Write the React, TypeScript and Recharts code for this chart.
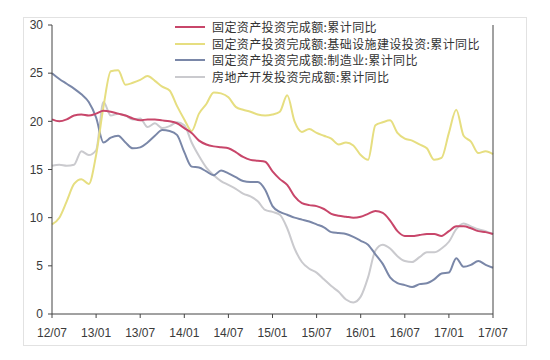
import React from 'react';
import { LineChart, Line, XAxis, YAxis } from 'recharts';

// monthly, 2012-07 .. 2017-07
const months = [
  '12/07', '12/08', '12/09', '12/10', '12/11', '12/12',
  '13/01', '13/02', '13/03', '13/04', '13/05', '13/06', '13/07', '13/08', '13/09', '13/10', '13/11', '13/12',
  '14/01', '14/02', '14/03', '14/04', '14/05', '14/06', '14/07', '14/08', '14/09', '14/10', '14/11', '14/12',
  '15/01', '15/02', '15/03', '15/04', '15/05', '15/06', '15/07', '15/08', '15/09', '15/10', '15/11', '15/12',
  '16/01', '16/02', '16/03', '16/04', '16/05', '16/06', '16/07', '16/08', '16/09', '16/10', '16/11', '16/12',
  '17/01', '17/02', '17/03', '17/04', '17/05', '17/06', '17/07',
];

const totalFai = [
  20.2, 20.0, 20.2, 20.6, 20.7, 20.6,
  20.8, 21.1, 21.0, 20.8, 20.6, 20.3, 20.1, 20.2, 20.2, 20.1, 20.0, 19.8,
  19.3, 18.8, 18.0, 17.6, 17.4, 17.3, 17.2, 16.8, 16.3, 16.0, 15.9, 15.8,
  14.8, 14.0, 13.4, 12.2, 11.5, 11.3, 11.2, 10.9, 10.4, 10.2, 10.1, 10.0,
  10.1, 10.4, 10.7, 10.5, 9.7, 8.6, 8.1, 8.1, 8.2, 8.3, 8.3, 8.1,
  8.6, 9.1, 9.1, 8.9, 8.6, 8.5, 8.3,
];

const infraFai = [
  9.3, 10.0, 11.7, 13.5, 14.0, 13.5,
  16.5, 21.5, 25.2, 25.3, 23.8, 24.0, 24.3, 24.7, 24.2, 23.6, 23.2, 21.6,
  20.2, 19.0, 20.8, 21.8, 23.0, 22.9, 22.5, 21.5, 21.2, 21.0, 20.7, 20.6,
  20.7, 21.0, 22.7, 20.0, 18.9, 19.2, 18.8, 18.5, 18.2, 17.6, 17.8, 17.5,
  16.5, 16.0, 19.6, 19.9, 20.1, 18.8, 18.2, 18.0, 17.6, 17.2, 16.0, 16.2,
  18.8, 21.2, 18.5, 17.9, 16.7, 16.9, 16.6,
];

const mfgFai = [
  25.0, 24.4, 23.9, 23.4, 22.8, 22.0,
  20.4, 17.8, 18.3, 18.5, 17.8, 17.2, 17.3, 17.8, 18.5, 19.1, 19.0, 18.6,
  16.8, 15.3, 15.2, 14.8, 14.4, 14.9, 14.6, 14.2, 13.8, 13.7, 13.7, 12.9,
  11.2, 10.6, 10.3, 10.0, 9.8, 9.6, 9.3, 9.0, 8.5, 8.4, 8.3, 8.0,
  7.6, 7.2, 6.2, 5.2, 3.8, 3.2, 3.0, 2.8, 3.1, 3.2, 3.6, 4.2,
  4.3, 5.8, 4.9, 5.1, 5.5, 5.1, 4.8,
];

const realEstate = [
  15.4, 15.5, 15.4, 15.5, 16.9, 16.5,
  17.0, 22.0, 20.6, 20.8, 20.6, 20.2, 20.3, 19.4, 19.8, 19.3, 19.5, 19.9,
  19.6, 17.8, 16.4, 15.2, 14.4, 13.8, 13.4, 13.0, 12.5, 12.2, 11.7, 10.8,
  10.6, 10.3, 8.9, 6.8, 5.4, 4.7, 4.3, 3.6, 2.9, 2.3, 1.5, 1.2,
  1.8, 3.8, 6.6, 7.2, 6.8, 6.0, 5.5, 5.4, 5.9, 6.4, 6.4, 6.8,
  7.5, 8.8, 9.4, 9.1, 8.8, 8.6, 8.3,
];

const xTicks = [0, 6, 12, 18, 24, 30, 36, 42, 48, 54, 60];
const yTicks = [0, 5, 10, 15, 20, 25, 30];

const SERIES = [
  { key: 'total', name: '固定资产投资完成额:累计同比', color: '#C8466A' },
  { key: 'infra', name: '固定资产投资完成额:基础设施建设投资:累计同比', color: '#E6DE80' },
  { key: 'mfg', name: '固定资产投资完成额:制造业:累计同比', color: '#7A87A8' },
  { key: 're', name: '房地产开发投资完成额:累计同比', color: '#CACACE' },
];

const data = months.map((m, i) => ({
  i,
  month: m,
  total: totalFai[i],
  infra: infraFai[i],
  mfg: mfgFai[i],
  re: realEstate[i],
}));

const tickStyle = { fontSize: 12, fill: '#3a3a3a', fontFamily: '"Liberation Sans", Arial, sans-serif' };

const LegendBox = () => (
  <div
    style={{
      position: 'absolute',
      left: 175,
      top: 19,
      fontFamily: '"Noto Sans CJK SC", sans-serif',
      fontSize: 12,
      color: '#333',
    }}
  >
    {SERIES.map((s) => (
      <div key={s.key} style={{ display: 'flex', alignItems: 'center', height: 16.5 }}>
        <span style={{ display: 'inline-block', width: 30, height: 2, background: s.color, marginRight: 7 }} />
        <span style={{ whiteSpace: 'nowrap', lineHeight: '16px', letterSpacing: 0.4 }}>{s.name}</span>
      </div>
    ))}
  </div>
);

const App: React.FC = () => {
  return (
    <div style={{ position: 'absolute', left: 0, top: 0, width: 550, height: 360, background: '#fff' }}>
      <div style={{ position: 'absolute', left: 23, top: 17, width: 502, height: 327, border: '1px solid #e2e2e2' }} />
      <LineChart width={550} height={360} data={data} margin={{ top: 25, right: 0, bottom: 16, left: 0 }}>
        <XAxis
          dataKey="i"
          type="number"
          domain={[0, 60]}
          ticks={xTicks}
          tickFormatter={(v: number) => months[v]}
          tick={tickStyle}
          tickSize={4}
          tickMargin={10}
          height={30}
          stroke="#444"
          interval={0}
          allowDecimals={false}
        />
        <YAxis
          yAxisId="left"
          domain={[0, 30]}
          ticks={yTicks}
          tick={tickStyle}
          tickSize={4}
          tickMargin={5}
          width={52}
          stroke="#444"
          interval={0}
        />
        <YAxis
          yAxisId="right"
          orientation="right"
          domain={[0, 30]}
          ticks={yTicks}
          tick={tickStyle}
          tickSize={4}
          tickMargin={5}
          width={57}
          stroke="#444"
          interval={0}
        />
        {SERIES.slice().reverse().map((s) => (
          <Line
            key={s.key}
            yAxisId="left"
            type="monotone"
            dataKey={s.key}
            name={s.name}
            stroke={s.color}
            strokeWidth={2}
            dot={false}
            isAnimationActive={false}
          />
        ))}
      </LineChart>
      <LegendBox />
    </div>
  );
};

export default App;
